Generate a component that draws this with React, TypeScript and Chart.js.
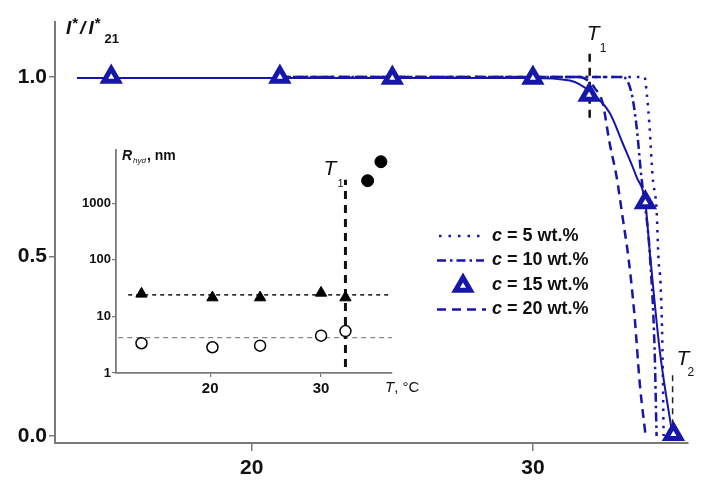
import React, { useEffect, useRef } from "react";
import { Chart, registerables } from "chart.js";
Chart.register(...registerables);

const FONT = "'Liberation Sans', Arial, Helvetica, sans-serif";
const BLUE = "#1616a8";
const AXIS = "#7a7a7a";

// ---------- main chart data (T, °C vs I*/I*21) ----------
const c5T = [21.0, 33.97, 34.05, 34.15, 34.26, 34.4, 34.47, 34.54, 34.61, 34.65];
const c5Y = [1.0, 1.0, 0.955, 0.861, 0.721, 0.63, 0.49, 0.426, 0.24, 0.0];

const c10T = [21.0, 33.19, 33.51, 33.69, 33.86, 34.08, 34.15, 34.33, 34.4];
const c10Y = [1.0, 1.0, 0.955, 0.861, 0.721, 0.582, 0.518, 0.24, 0.0];

const c15LineT = [13.78, 29.89, 31.31, 32.02, 32.73, 33.19, 33.69, 34.0, 34.15, 34.51, 34.97];
const c15LineY = [0.997, 0.997, 0.99, 0.96, 0.9, 0.816, 0.721, 0.65, 0.52, 0.24, 0.0];

const c15PtsT = [15, 21, 25, 30, 32, 34, 35];
const c15PtsY = [1.0, 1.0, 0.997, 0.997, 0.95, 0.65, 0.005];

const c20T = [21.0, 31.66, 32.02, 32.2, 32.48, 32.73, 32.98, 33.19, 33.41, 33.62, 33.8, 34.01];
const c20Y = [1.0, 1.0, 0.986, 0.969, 0.928, 0.816, 0.721, 0.61, 0.49, 0.331, 0.148, 0.0];

const mainXTicks = [20, 30];
const mainYTicks = [0, 0.5, 1.0];

const T1 = 32.02;
const T1Span = [0.886, 1.067];
const T2 = 34.97;
const T2Span = [0.03, 0.175];

const legendLabels = ["5", "10", "15", "20"];

// ---------- inset data (T, °C vs R_hyd, nm) ----------
const inTriT = [13.8, 20.2, 24.5, 30.0, 32.2];
const inTriR = [25, 21.5, 21.5, 26, 21.5];
const inOpenT = [13.8, 20.2, 24.5, 30.0, 32.2];
const inOpenR = [3.36, 2.85, 3.04, 4.57, 5.5];
const inFillT = [34.2, 35.4];
const inFillR = [2500, 5400];
const inLevelHigh = 24;
const inLevelLow = 4.2;
const inT1 = 32.2;
const inT1Span = [1.28, 2600];
const inXTicks = [20, 30];
const inYTicks = [1, 10, 100, 1000];

const xy = (xs: number[], ys: number[]) => xs.map((x, i) => ({ x, y: ys[i] }));

type Part = { t: string; font: string; dy?: number; dx?: number };
function rich(ctx: CanvasRenderingContext2D, x: number, y: number, parts: Part[]) {
  let cx = x;
  for (const p of parts) {
    ctx.font = p.font;
    cx += p.dx || 0;
    ctx.fillText(p.t, cx, y + (p.dy || 0));
    cx += ctx.measureText(p.t).width;
  }
}

const mainText = {
  id: "mainText",
  afterDraw(chart: any) {
    const ctx: CanvasRenderingContext2D = chart.ctx;
    const xs = chart.scales.x;
    ctx.save();
    ctx.fillStyle = "#111";
    ctx.textBaseline = "alphabetic";
    ctx.textAlign = "left";
    // y title I*/I*21
    const bi = `italic bold 19px ${FONT}`;
    const bs = `bold 15px ${FONT}`;
    rich(ctx, 66, 34, [
      { t: "I", font: bi },
      { t: "*", font: bs, dy: -6, dx: 1 },
      { t: "/", font: bi, dx: 2 },
      { t: "I", font: bi, dx: 3 },
      { t: "*", font: bs, dy: -6, dx: 1 },
      { t: "21", font: `bold 13px ${FONT}`, dy: 9, dx: 4 },
    ]);
    // T1
    const t1x = xs.getPixelForValue(T1);
    rich(ctx, t1x - 3, 40, [{ t: "T", font: `italic 21px ${FONT}` }]);
    rich(ctx, t1x + 10, 52, [{ t: "1", font: `12px ${FONT}` }]);
    // T2
    const t2x = xs.getPixelForValue(T2);
    rich(ctx, t2x + 4, 365, [{ t: "T", font: `italic 21px ${FONT}` }]);
    rich(ctx, t2x + 15, 376, [{ t: "2", font: `12px ${FONT}` }]);

    // legend
    const rows = [236, 260.5, 285, 309.5];
    const x0 = 437, x1 = 484;
    ctx.strokeStyle = BLUE;
    ctx.lineCap = "butt";
    ctx.lineWidth = 2.5;
    ctx.setLineDash([2.5, 7]);
    ctx.beginPath(); ctx.moveTo(x0 + 2, rows[0]); ctx.lineTo(x1, rows[0]); ctx.stroke();
    ctx.setLineDash([9, 4, 2.5, 4]);
    ctx.beginPath(); ctx.moveTo(x0, rows[1]); ctx.lineTo(x1, rows[1]); ctx.stroke();
    ctx.setLineDash([]);
    const tx = 463, ty = rows[2] + 1, r = 8.5;
    ctx.beginPath();
    ctx.moveTo(tx, ty - r);
    ctx.lineTo(tx + r * 0.866, ty + r * 0.5);
    ctx.lineTo(tx - r * 0.866, ty + r * 0.5);
    ctx.closePath();
    ctx.fillStyle = "#fff";
    ctx.fill();
    ctx.lineWidth = 5;
    ctx.lineJoin = "miter";
    ctx.stroke();
    ctx.lineWidth = 2.5;
    ctx.setLineDash([9, 6]);
    ctx.beginPath(); ctx.moveTo(x0, rows[3]); ctx.lineTo(x1 + 2, rows[3]); ctx.stroke();
    ctx.setLineDash([]);

    ctx.fillStyle = "#111";
    ctx.textBaseline = "middle";
    legendLabels.forEach((lab, i) => {
      rich(ctx, 492, rows[i], [
        { t: "c", font: `italic bold 18px ${FONT}` },
        { t: ` = ${lab} wt.%`, font: `bold 18px ${FONT}` },
      ]);
    });
    ctx.restore();
  },
};

const insetText = {
  id: "insetText",
  afterDraw(chart: any) {
    const ctx: CanvasRenderingContext2D = chart.ctx;
    const xs = chart.scales.x;
    const ys = chart.scales.y;
    const a = chart.chartArea;
    ctx.save();
    ctx.fillStyle = "#111";
    ctx.textBaseline = "alphabetic";
    ctx.textAlign = "left";
    rich(ctx, a.left + 6, a.top + 10, [
      { t: "R", font: `italic bold 14px ${FONT}` },
      { t: "hyd", font: `italic 8px ${FONT}`, dy: 3, dx: 1 },
      { t: ", nm", font: `bold 14px ${FONT}`, dx: 1 },
    ]);
    rich(ctx, a.right - 7, a.bottom + 19, [
      { t: "T", font: `italic 15px ${FONT}` },
      { t: ", °C", font: `15px ${FONT}` },
    ]);
    const t1x = xs.getPixelForValue(inT1);
    const t1y = ys.getPixelForValue(inT1Span[1]);
    rich(ctx, t1x - 22, t1y - 5, [{ t: "T", font: `italic 21px ${FONT}` }]);
    rich(ctx, t1x - 8, t1y + 7, [{ t: "1", font: `11px ${FONT}` }]);
    ctx.restore();
  },
};

export default function App() {
  const mainRef = useRef<HTMLCanvasElement>(null);
  const insetRef = useRef<HTMLCanvasElement>(null);

  useEffect(() => {
    const main = new Chart(mainRef.current!, {
      type: "line",
      data: {
        datasets: [
          {
            label: "c = 15 wt.% points",
            data: xy(c15PtsT, c15PtsY),
            showLine: false,
            pointStyle: "triangle",
            pointRadius: 8.5,
            pointBorderWidth: 5,
            pointBackgroundColor: "#fff",
            pointBorderColor: BLUE,
            order: 0,
          },
          {
            label: "c = 15 wt.%",
            data: xy(c15LineT, c15LineY),
            borderColor: BLUE,
            borderWidth: 2,
            pointRadius: 0,
            cubicInterpolationMode: "monotone",
            order: 1,
          },
          {
            label: "c = 5 wt.%",
            data: xy(c5T, c5Y),
            borderColor: BLUE,
            borderWidth: 2.5,
            borderDash: [2.5, 6],
            pointRadius: 0,
            cubicInterpolationMode: "monotone",
            order: 2,
          },
          {
            label: "c = 10 wt.%",
            data: xy(c10T, c10Y),
            borderColor: BLUE,
            borderWidth: 2.5,
            borderDash: [9, 4, 2.5, 4],
            pointRadius: 0,
            cubicInterpolationMode: "monotone",
            order: 3,
          },
          {
            label: "c = 20 wt.%",
            data: xy(c20T, c20Y),
            borderColor: BLUE,
            borderWidth: 2.5,
            borderDash: [9, 6],
            pointRadius: 0,
            cubicInterpolationMode: "monotone",
            order: 4,
          },
          {
            label: "T1",
            data: [{ x: T1, y: T1Span[0] }, { x: T1, y: T1Span[1] }],
            borderColor: "#111",
            borderWidth: 2.5,
            borderDash: [8, 6],
            pointRadius: 0,
            order: 5,
          },
          {
            label: "T2",
            data: [{ x: T2, y: T2Span[0] }, { x: T2, y: T2Span[1] }],
            borderColor: "#222",
            borderWidth: 1.5,
            borderDash: [6, 5],
            pointRadius: 0,
            order: 6,
          },
        ],
      },
      options: {
        animation: false,
        responsive: false,
        layout: { padding: { left: 0, right: 13, top: 22, bottom: 0 } },
        plugins: { legend: { display: false }, tooltip: { enabled: false } },
        scales: {
          x: {
            type: "linear",
            min: 13,
            max: 35.5,
            afterBuildTicks: (s: any) => { s.ticks = mainXTicks.map((v) => ({ value: v })); },
            afterFit: (s: any) => { s.height = 45; },
            ticks: { font: { family: FONT, size: 21, weight: "bold" }, color: "#111", padding: 5 },
            grid: { drawOnChartArea: false, drawTicks: true, tickLength: 8, color: AXIS, lineWidth: 1.5 },
            border: { color: AXIS, width: 2 },
          },
          y: {
            type: "linear",
            min: -0.0195,
            max: 1.153,
            afterBuildTicks: (s: any) => { s.ticks = mainYTicks.map((v) => ({ value: v })); },
            afterFit: (s: any) => { s.width = 55; },
            ticks: {
              font: { family: FONT, size: 21, weight: "bold" },
              color: "#111",
              padding: 2,
              callback: (v: any) => Number(v).toFixed(1),
            },
            grid: { drawOnChartArea: false, drawTicks: true, tickLength: 6, color: AXIS, lineWidth: 1.5 },
            border: { color: AXIS, width: 2 },
          },
        },
      },
      plugins: [mainText],
    } as any);

    const inset = new Chart(insetRef.current!, {
      type: "line",
      data: {
        datasets: [
          {
            label: "filled triangles",
            data: xy(inTriT, inTriR),
            showLine: false,
            pointStyle: "triangle",
            pointRadius: 6.5,
            pointBorderWidth: 1,
            pointBackgroundColor: "#000",
            pointBorderColor: "#000",
            order: 0,
          },
          {
            label: "open circles",
            data: xy(inOpenT, inOpenR),
            showLine: false,
            pointStyle: "circle",
            pointRadius: 5.5,
            pointBorderWidth: 1.5,
            pointBackgroundColor: "#fff",
            pointBorderColor: "#000",
            order: 1,
          },
          {
            label: "filled circles",
            data: xy(inFillT, inFillR),
            showLine: false,
            pointStyle: "circle",
            pointRadius: 6,
            pointBorderWidth: 1,
            pointBackgroundColor: "#000",
            pointBorderColor: "#000",
            order: 2,
          },
          {
            label: "T1",
            data: [{ x: inT1, y: inT1Span[0] }, { x: inT1, y: inT1Span[1] }],
            borderColor: "#111",
            borderWidth: 3,
            borderDash: [8, 6],
            pointRadius: 0,
            order: 3,
          },
          {
            label: "high level",
            data: [{ x: 12.6, y: inLevelHigh }, { x: 36.4, y: inLevelHigh }],
            borderColor: "#111",
            borderWidth: 1.5,
            borderDash: [4, 4],
            pointRadius: 0,
            order: 4,
          },
          {
            label: "low level",
            data: [{ x: 11.7, y: inLevelLow }, { x: 36.4, y: inLevelLow }],
            borderColor: "#888",
            borderWidth: 1.3,
            borderDash: [5, 4],
            pointRadius: 0,
            order: 5,
          },
        ],
      },
      options: {
        animation: false,
        responsive: false,
        layout: { padding: { left: 0, right: 38, top: 20, bottom: 0 } },
        plugins: { legend: { display: false }, tooltip: { enabled: false } },
        scales: {
          x: {
            type: "linear",
            min: 11.5,
            max: 36.4,
            afterBuildTicks: (s: any) => { s.ticks = inXTicks.map((v) => ({ value: v })); },
            afterFit: (s: any) => { s.height = 27; },
            ticks: { font: { family: FONT, size: 15, weight: "bold" }, color: "#111", padding: 3 },
            grid: { drawOnChartArea: false, drawTicks: true, tickLength: 4, color: AXIS, lineWidth: 1.2 },
            border: { color: AXIS, width: 1.8 },
          },
          y: {
            type: "logarithmic",
            min: 1,
            max: 8700,
            afterBuildTicks: (s: any) => { s.ticks = inYTicks.map((v) => ({ value: v })); },
            afterFit: (s: any) => { s.width = 56; },
            ticks: {
              font: { family: FONT, size: 13, weight: "bold" },
              color: "#111",
              padding: 1,
              callback: (v: any) => String(v),
            },
            grid: { drawOnChartArea: false, drawTicks: true, tickLength: 4, color: AXIS, lineWidth: 1.2 },
            border: { color: AXIS, width: 1.8 },
          },
        },
      },
      plugins: [insetText],
    } as any);

    return () => {
      main.destroy();
      inset.destroy();
    };
  }, []);

  return (
    <div style={{ position: "absolute", left: 0, top: 0, width: 701, height: 488, background: "#fff" }}>
      <canvas ref={mainRef} width={701} height={488} style={{ position: "absolute", left: 0, top: 0 }} />
      <canvas ref={insetRef} width={370} height={270} style={{ position: "absolute", left: 60, top: 130 }} />
    </div>
  );
}
